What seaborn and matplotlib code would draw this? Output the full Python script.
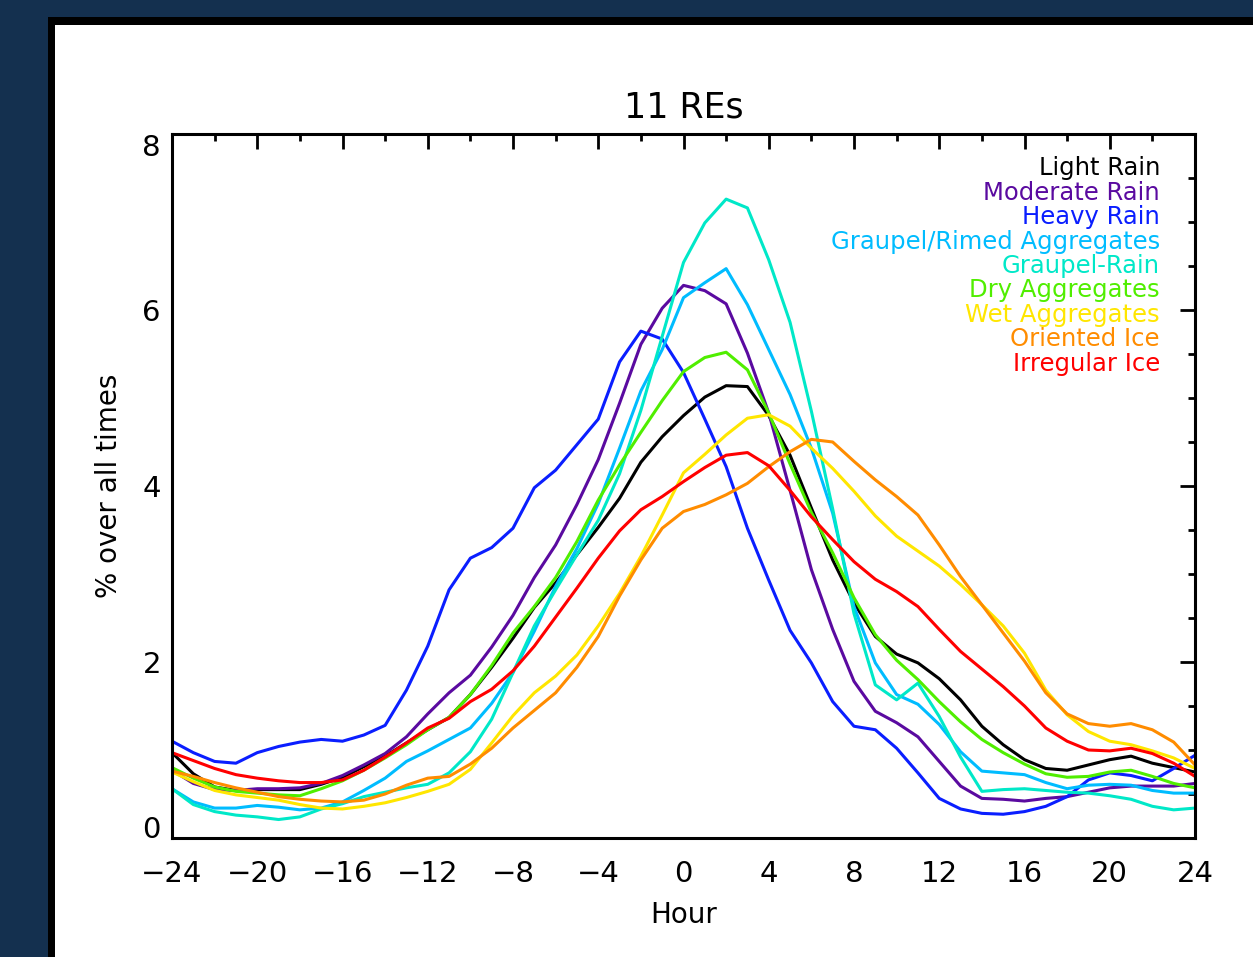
import numpy as np
import pandas as pd
import matplotlib
matplotlib.use("Agg")
import matplotlib.pyplot as plt
from matplotlib.patches import Rectangle
from matplotlib.ticker import MultipleLocator
import seaborn as sns

hours = [-24, -23, -22, -21, -20, -19, -18, -17, -16, -15, -14, -13, -12, -11, -10, -9, -8, -7, -6, -5, -4, -3, -2, -1,
         0, 1, 2, 3, 4, 5, 6, 7, 8, 9, 10, 11, 12, 13, 14, 15, 16, 17, 18, 19, 20, 21, 22, 23, 24]

light_rain = [0.97, 0.73, 0.58, 0.54, 0.55, 0.55, 0.55, 0.61, 0.69, 0.81, 0.93, 1.08, 1.23, 1.37, 1.63, 1.94, 2.27, 2.62,
              2.90, 3.22, 3.53, 3.86, 4.27, 4.56, 4.80, 5.01, 5.14, 5.13, 4.80, 4.35, 3.75, 3.16, 2.67, 2.29, 2.09, 1.99,
              1.81, 1.57, 1.27, 1.06, 0.89, 0.79, 0.77, 0.83, 0.89, 0.93, 0.85, 0.80, 0.75]
moderate_rain = [0.77, 0.62, 0.55, 0.54, 0.56, 0.56, 0.57, 0.62, 0.71, 0.83, 0.96, 1.15, 1.41, 1.65, 1.85, 2.17, 2.53, 2.96,
                 3.33, 3.79, 4.30, 4.94, 5.61, 6.02, 6.28, 6.22, 6.07, 5.51, 4.83, 3.95, 3.05, 2.37, 1.78, 1.44, 1.31, 1.15,
                 0.87, 0.59, 0.45, 0.44, 0.42, 0.45, 0.47, 0.52, 0.57, 0.59, 0.59, 0.59, 0.62]
heavy_rain = [1.10, 0.97, 0.87, 0.85, 0.97, 1.04, 1.09, 1.12, 1.10, 1.17, 1.28, 1.68, 2.18, 2.82, 3.18, 3.30, 3.52, 3.98,
              4.18, 4.47, 4.76, 5.41, 5.76, 5.67, 5.29, 4.76, 4.22, 3.52, 2.93, 2.36, 1.99, 1.55, 1.27, 1.23, 1.02, 0.74,
              0.45, 0.33, 0.28, 0.27, 0.30, 0.36, 0.47, 0.66, 0.74, 0.71, 0.65, 0.79, 0.94]
graupel_rimed = [0.56, 0.41, 0.34, 0.34, 0.37, 0.35, 0.32, 0.34, 0.41, 0.54, 0.68, 0.87, 0.99, 1.12, 1.25, 1.53, 1.88, 2.35,
                 2.86, 3.29, 3.80, 4.43, 5.08, 5.55, 6.14, 6.31, 6.47, 6.06, 5.55, 5.04, 4.43, 3.69, 2.63, 1.99, 1.63, 1.52,
                 1.29, 0.98, 0.76, 0.74, 0.72, 0.63, 0.56, 0.60, 0.61, 0.60, 0.54, 0.51, 0.51]
graupel_rain = [0.56, 0.38, 0.30, 0.26, 0.24, 0.21, 0.24, 0.33, 0.39, 0.47, 0.52, 0.57, 0.61, 0.74, 0.98, 1.35, 1.88, 2.41,
                2.82, 3.22, 3.61, 4.14, 4.86, 5.70, 6.54, 6.99, 7.26, 7.16, 6.57, 5.86, 4.85, 3.74, 2.55, 1.74, 1.57, 1.76,
                1.38, 0.92, 0.53, 0.55, 0.56, 0.54, 0.52, 0.51, 0.48, 0.44, 0.36, 0.32, 0.34]
dry_aggregates = [0.80, 0.68, 0.58, 0.53, 0.51, 0.49, 0.48, 0.56, 0.65, 0.77, 0.91, 1.06, 1.23, 1.37, 1.63, 1.96, 2.33, 2.63,
                  2.96, 3.37, 3.84, 4.24, 4.61, 4.97, 5.30, 5.46, 5.52, 5.32, 4.83, 4.25, 3.70, 3.24, 2.73, 2.31, 2.02, 1.80,
                  1.55, 1.32, 1.12, 0.97, 0.84, 0.73, 0.69, 0.70, 0.75, 0.77, 0.70, 0.62, 0.57]
wet_aggregates = [0.75, 0.64, 0.54, 0.49, 0.46, 0.43, 0.38, 0.34, 0.33, 0.36, 0.40, 0.46, 0.53, 0.61, 0.78, 1.08, 1.39, 1.65,
                  1.84, 2.08, 2.41, 2.78, 3.20, 3.67, 4.15, 4.36, 4.58, 4.77, 4.81, 4.68, 4.43, 4.20, 3.94, 3.66, 3.43, 3.26,
                  3.09, 2.88, 2.65, 2.41, 2.10, 1.68, 1.40, 1.21, 1.10, 1.06, 0.99, 0.91, 0.79]
oriented_ice = [0.76, 0.70, 0.63, 0.57, 0.52, 0.47, 0.44, 0.42, 0.41, 0.43, 0.50, 0.60, 0.68, 0.70, 0.84, 1.02, 1.25, 1.45,
                1.65, 1.94, 2.29, 2.75, 3.16, 3.52, 3.71, 3.79, 3.90, 4.03, 4.22, 4.39, 4.53, 4.50, 4.28, 4.07, 3.88, 3.67,
                3.33, 2.97, 2.65, 2.33, 2.01, 1.65, 1.41, 1.30, 1.27, 1.30, 1.23, 1.09, 0.83]
irregular_ice = [0.97, 0.88, 0.79, 0.72, 0.68, 0.65, 0.63, 0.63, 0.66, 0.77, 0.92, 1.08, 1.25, 1.36, 1.55, 1.69, 1.90, 2.18,
                 2.51, 2.84, 3.18, 3.49, 3.73, 3.88, 4.05, 4.21, 4.35, 4.38, 4.23, 3.95, 3.65, 3.39, 3.14, 2.94, 2.80, 2.63,
                 2.37, 2.12, 1.92, 1.72, 1.50, 1.25, 1.10, 1.00, 0.99, 1.02, 0.96, 0.85, 0.70]

categories = ["Light Rain", "Moderate Rain", "Heavy Rain", "Graupel/Rimed Aggregates", "Graupel-Rain",
              "Dry Aggregates", "Wet Aggregates", "Oriented Ice", "Irregular Ice"]
series = [light_rain, moderate_rain, heavy_rain, graupel_rimed, graupel_rain,
          dry_aggregates, wet_aggregates, oriented_ice, irregular_ice]
colors = ["#000000", "#5a0aa0", "#0a1eff", "#00bcff", "#00e8c8",
          "#50ee00", "#ffe600", "#ff8c00", "#ff0000"]

x_ticks = [-24, -20, -16, -12, -8, -4, 0, 4, 8, 12, 16, 20, 24]
y_ticks = [0, 2, 4, 6, 8]

title = "11 REs"
xlabel = "Hour"
ylabel = "% over all times"

df = pd.concat([pd.DataFrame({"Hour": hours, "value": vals, "type": name})
                for name, vals in zip(categories, series)], ignore_index=True)

sns.set_style("white")
plt.rcParams["font.family"] = ["DejaVu Sans"]
plt.rcParams["text.color"] = "black"
plt.rcParams["axes.labelcolor"] = "black"

W, H = 1253, 957
fig = plt.figure(figsize=(W / 100, H / 100), dpi=100)
fig.patch.set_facecolor("#14304f")

# panel with black frame
fig.add_artist(Rectangle((48 / W, -0.1), 1.2, (H - 17) / H + 0.1, transform=fig.transFigure,
                         facecolor="black", edgecolor="none", zorder=-10))
fig.add_artist(Rectangle((55 / W, -0.1), 1.2, (H - 25) / H + 0.1, transform=fig.transFigure,
                         facecolor="white", edgecolor="none", zorder=-9))

ax = fig.add_axes([172 / W, (H - 838) / H, 1023 / W, 704 / H])
ax.set_zorder(5)
ax.set_facecolor("white")

sns.lineplot(data=df, x="Hour", y="value", hue="type", hue_order=categories,
             palette=dict(zip(categories, colors)), sort=False, legend=False,
             linewidth=2.2, ax=ax)

ax.set_xlim(-24, 24)
ax.set_ylim(0, 8)
ax.xaxis.set_minor_locator(MultipleLocator(2))
ax.yaxis.set_minor_locator(MultipleLocator(0.5))
ax.set_xticks(x_ticks)
ax.set_xticklabels([f"{t}".replace("-", "\u2212") for t in x_ticks])
ax.set_yticks(y_ticks)
ax.set_yticklabels([f"{t}" for t in y_ticks])

ax.tick_params(which="both", direction="in", top=True, right=True, width=2, colors="black")
ax.tick_params(which="major", length=10.5)
ax.tick_params(which="minor", length=5)
ax.tick_params(axis="x", which="major", labelsize=21, pad=16)
ax.tick_params(axis="y", which="major", labelsize=21, pad=8)
for s in ax.spines.values():
    s.set_linewidth(2.2)
    s.set_color("black")

ylabs = ax.get_yticklabels()
ylabs[0].set_va("baseline")
ylabs[-1].set_va("top")

ax.set_xlabel(xlabel, fontsize=20, labelpad=9, color="black")
ax.set_ylabel(ylabel, fontsize=20, labelpad=14, color="black")
ax.set_title(title, fontsize=25, pad=12, color="black")

for i, (name, c) in enumerate(zip(categories, colors)):
    ax.text((1160 - 172) / 1023, (838 - 168 - i * 24.5) / 704, name,
            transform=ax.transAxes, ha="right", va="center", color=c, fontsize=17.5)

fig.savefig("out.png", dpi=100, facecolor=fig.get_facecolor())
